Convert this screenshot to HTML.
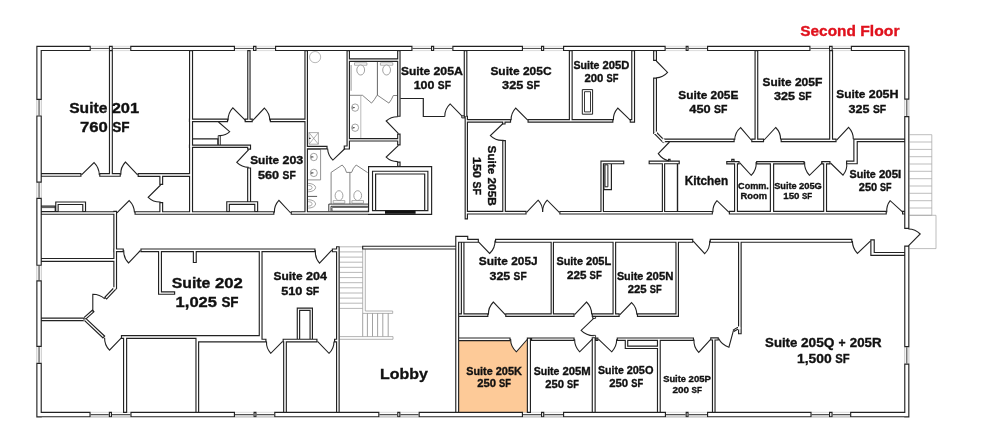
<!DOCTYPE html>
<html><head><meta charset="utf-8"><title>Second Floor</title>
<style>html,body{margin:0;padding:0;background:#fff;}svg{display:block;will-change:transform;}text{font-family:"Liberation Sans",sans-serif;font-weight:bold;fill:#111;stroke:#111;stroke-width:0.35px;}</style>
</head><body>
<svg width="984" height="446" viewBox="0 0 984 446">
<rect width="984" height="446" fill="#fff"/>
<rect x="90.6" y="414.9" width="18.200000000000003" height="2.8" fill="#d6d6d6"/>
<rect x="112" y="414.9" width="18.400000000000006" height="2.8" fill="#d6d6d6"/>
<rect x="235" y="414.9" width="18.5" height="2.8" fill="#d6d6d6"/>
<rect x="256.5" y="414.9" width="17.69999999999999" height="2.8" fill="#d6d6d6"/>
<rect x="379.4" y="414.9" width="17.80000000000001" height="2.8" fill="#d6d6d6"/>
<rect x="400.4" y="414.9" width="18.200000000000045" height="2.8" fill="#d6d6d6"/>
<rect x="523" y="414.9" width="18" height="2.8" fill="#d6d6d6"/>
<rect x="544.3" y="414.9" width="18.700000000000045" height="2.8" fill="#d6d6d6"/>
<rect x="666" y="414.9" width="19.600000000000023" height="2.8" fill="#d6d6d6"/>
<rect x="688.6" y="414.9" width="18.399999999999977" height="2.8" fill="#d6d6d6"/>
<rect x="811.6" y="414.9" width="17.399999999999977" height="2.8" fill="#d6d6d6"/>
<rect x="832.6" y="414.9" width="17.5" height="2.8" fill="#d6d6d6"/>
<rect x="458.6" y="340.6" width="69" height="72" fill="#fdca98"/>
<path d="M527.6 337H510.6V339A17 17 0 0 0 516.4 351.8L527.6 339Z" fill="#fff"/>
<path d="M90.8 48.45H108.9" fill="none" stroke="#4c4c4c" stroke-width="1.0"/>
<path d="M90.8 46.3H108.9M90.8 50.6H108.9" fill="none" stroke="#c2c2c2" stroke-width="0.6"/>
<path d="M112.8 48.45H130.2" fill="none" stroke="#4c4c4c" stroke-width="1.0"/>
<path d="M112.8 46.3H130.2M112.8 50.6H130.2" fill="none" stroke="#c2c2c2" stroke-width="0.6"/>
<path d="M235 48.45H253" fill="none" stroke="#4c4c4c" stroke-width="1.0"/>
<path d="M235 46.3H253M235 50.6H253" fill="none" stroke="#c2c2c2" stroke-width="0.6"/>
<path d="M256.5 48.45H275" fill="none" stroke="#4c4c4c" stroke-width="1.0"/>
<path d="M256.5 46.3H275M256.5 50.6H275" fill="none" stroke="#c2c2c2" stroke-width="0.6"/>
<path d="M412.5 48.45H431" fill="none" stroke="#4c4c4c" stroke-width="1.0"/>
<path d="M412.5 46.3H431M412.5 50.6H431" fill="none" stroke="#c2c2c2" stroke-width="0.6"/>
<path d="M434.2 48.45H452.3" fill="none" stroke="#4c4c4c" stroke-width="1.0"/>
<path d="M434.2 46.3H452.3M434.2 50.6H452.3" fill="none" stroke="#c2c2c2" stroke-width="0.6"/>
<path d="M523 48.45H541" fill="none" stroke="#4c4c4c" stroke-width="1.0"/>
<path d="M523 46.3H541M523 50.6H541" fill="none" stroke="#c2c2c2" stroke-width="0.6"/>
<path d="M544.2 48.45H563" fill="none" stroke="#4c4c4c" stroke-width="1.0"/>
<path d="M544.2 46.3H563M544.2 50.6H563" fill="none" stroke="#c2c2c2" stroke-width="0.6"/>
<path d="M665.7 48.45H685.6" fill="none" stroke="#4c4c4c" stroke-width="1.0"/>
<path d="M665.7 46.3H685.6M665.7 50.6H685.6" fill="none" stroke="#c2c2c2" stroke-width="0.6"/>
<path d="M688.6 48.45H707" fill="none" stroke="#4c4c4c" stroke-width="1.0"/>
<path d="M688.6 46.3H707M688.6 50.6H707" fill="none" stroke="#c2c2c2" stroke-width="0.6"/>
<path d="M810.5 48.45H829" fill="none" stroke="#4c4c4c" stroke-width="1.0"/>
<path d="M810.5 46.3H829M810.5 50.6H829" fill="none" stroke="#c2c2c2" stroke-width="0.6"/>
<path d="M832.7 48.45H850.8" fill="none" stroke="#4c4c4c" stroke-width="1.0"/>
<path d="M832.7 46.3H850.8M832.7 50.6H850.8" fill="none" stroke="#c2c2c2" stroke-width="0.6"/>
<path d="M90.6 414.55H108.8" fill="none" stroke="#4c4c4c" stroke-width="1.0"/>
<path d="M90.6 412.3H108.8M90.6 416.8H108.8" fill="none" stroke="#c2c2c2" stroke-width="0.6"/>
<path d="M112 414.55H130.4" fill="none" stroke="#4c4c4c" stroke-width="1.0"/>
<path d="M112 412.3H130.4M112 416.8H130.4" fill="none" stroke="#c2c2c2" stroke-width="0.6"/>
<path d="M235 414.55H253.5" fill="none" stroke="#4c4c4c" stroke-width="1.0"/>
<path d="M235 412.3H253.5M235 416.8H253.5" fill="none" stroke="#c2c2c2" stroke-width="0.6"/>
<path d="M256.5 414.55H274.2" fill="none" stroke="#4c4c4c" stroke-width="1.0"/>
<path d="M256.5 412.3H274.2M256.5 416.8H274.2" fill="none" stroke="#c2c2c2" stroke-width="0.6"/>
<path d="M379.4 414.55H397.2" fill="none" stroke="#4c4c4c" stroke-width="1.0"/>
<path d="M379.4 412.3H397.2M379.4 416.8H397.2" fill="none" stroke="#c2c2c2" stroke-width="0.6"/>
<path d="M400.4 414.55H418.6" fill="none" stroke="#4c4c4c" stroke-width="1.0"/>
<path d="M400.4 412.3H418.6M400.4 416.8H418.6" fill="none" stroke="#c2c2c2" stroke-width="0.6"/>
<path d="M523 414.55H541" fill="none" stroke="#4c4c4c" stroke-width="1.0"/>
<path d="M523 412.3H541M523 416.8H541" fill="none" stroke="#c2c2c2" stroke-width="0.6"/>
<path d="M544.3 414.55H563" fill="none" stroke="#4c4c4c" stroke-width="1.0"/>
<path d="M544.3 412.3H563M544.3 416.8H563" fill="none" stroke="#c2c2c2" stroke-width="0.6"/>
<path d="M666 414.55H685.6" fill="none" stroke="#4c4c4c" stroke-width="1.0"/>
<path d="M666 412.3H685.6M666 416.8H685.6" fill="none" stroke="#c2c2c2" stroke-width="0.6"/>
<path d="M688.6 414.55H707" fill="none" stroke="#4c4c4c" stroke-width="1.0"/>
<path d="M688.6 412.3H707M688.6 416.8H707" fill="none" stroke="#c2c2c2" stroke-width="0.6"/>
<path d="M811.6 414.55H829" fill="none" stroke="#4c4c4c" stroke-width="1.0"/>
<path d="M811.6 412.3H829M811.6 416.8H829" fill="none" stroke="#c2c2c2" stroke-width="0.6"/>
<path d="M832.6 414.55H850.1" fill="none" stroke="#4c4c4c" stroke-width="1.0"/>
<path d="M832.6 412.3H850.1M832.6 416.8H850.1" fill="none" stroke="#c2c2c2" stroke-width="0.6"/>
<path d="M39.05 100V115.4" fill="none" stroke="#555" stroke-width="1.2"/>
<path d="M36.8 100V115.4M41.3 100V115.4" fill="none" stroke="#b0b0b0" stroke-width="0.7"/>
<path d="M39.05 182.7V197.8" fill="none" stroke="#555" stroke-width="1.2"/>
<path d="M36.8 182.7V197.8M41.3 182.7V197.8" fill="none" stroke="#b0b0b0" stroke-width="0.7"/>
<path d="M39.05 265.8V280.3" fill="none" stroke="#555" stroke-width="1.2"/>
<path d="M36.8 265.8V280.3M41.3 265.8V280.3" fill="none" stroke="#b0b0b0" stroke-width="0.7"/>
<path d="M39.05 347V362.8" fill="none" stroke="#555" stroke-width="1.2"/>
<path d="M36.8 347V362.8M41.3 347V362.8" fill="none" stroke="#b0b0b0" stroke-width="0.7"/>
<path d="M906.8 99.7V116" fill="none" stroke="#555" stroke-width="1.2"/>
<path d="M904.7 99.7V116M908.9 99.7V116" fill="none" stroke="#b0b0b0" stroke-width="0.7"/>
<path d="M906.8 347.2V363.5" fill="none" stroke="#555" stroke-width="1.2"/>
<path d="M904.7 347.2V363.5M908.9 347.2V363.5" fill="none" stroke="#b0b0b0" stroke-width="0.7"/>
<path d="M354.5 62.8H366.9V65.2H354.5Z" fill="none" stroke="#8c8c8c" stroke-width="0.7"/>
<path d="M380.40000000000003 62.8H392.8V65.2H380.40000000000003Z" fill="none" stroke="#8c8c8c" stroke-width="0.7"/>
<path d="M377.4 61.8V95.3" fill="none" stroke="#555" stroke-width="0.9"/>
<path d="M351.1 65V90.8" fill="none" stroke="#aaa" stroke-width="1.2"/>
<path d="M349.6 95.3H362.5L371.5 103.1Q374.5 100 377 95.3H377.6L388.9 103.1Q391.5 100 393.3 95.5H397.3" fill="none" stroke="#666" stroke-width="0.8"/>
<path d="M360.8 95.3V137.9" fill="none" stroke="#aaa" stroke-width="0.8"/>
<path d="M309 132.6H318.4V144.2H309ZM309 132.6L318.4 144.2M318.4 132.6L309 144.2" fill="none" stroke="#8c8c8c" stroke-width="0.7"/>
<path d="M307.9 149.4H320.6V179.9H307.9" fill="none" stroke="#777" stroke-width="0.8"/>
<path d="M308.2 183.4A7.4 4.2 0 0 1 308.2 191.79999999999998" fill="none" stroke="#8c8c8c" stroke-width="0.8"/>
<path d="M308.2 185.29999999999998A4 2.3 0 0 1 308.2 189.9" fill="none" stroke="#8c8c8c" stroke-width="0.7"/>
<path d="M308.2 199.70000000000002A7.4 4.2 0 0 1 308.2 208.1" fill="none" stroke="#8c8c8c" stroke-width="0.8"/>
<path d="M308.2 201.6A4 2.3 0 0 1 308.2 206.20000000000002" fill="none" stroke="#8c8c8c" stroke-width="0.7"/>
<path d="M307.9 196.4H317.1" fill="none" stroke="#444" stroke-width="0.9"/>
<path d="M331.1 203.9V172.4L342.2 165Q345.5 168 346.5 172.4H349.9V203.9M349.9 172.4H351.6Q353 168 356.2 165L367.6 172.6" fill="none" stroke="#666" stroke-width="0.8"/>
<path d="M333.2 203.2H344.8V200.6H333.2Z" fill="none" stroke="#8c8c8c" stroke-width="0.7"/>
<path d="M351.9 203.2H363.5V200.6H351.9Z" fill="none" stroke="#8c8c8c" stroke-width="0.7"/>
<path d="M909.6 134.7H931.8M909.6 142.0H931.8M909.6 149.4H931.8M909.6 156.7H931.8M909.6 164.0H931.8M909.6 171.3H931.8M909.6 178.7H931.8M909.6 186.0H931.8M909.6 193.3H931.8M909.6 200.7H931.8M909.6 208.0H931.8M909.6 215.3H931.8M931.8 134.7V215.3M909.6 215.3H936V248.6H909.6" fill="none" stroke="#a2a2a2" stroke-width="0.7"/>
<path d="M339.8 246.8H362.7M339.8 251.9H362.7M339.8 257.1H362.7M339.8 262.2H362.7M339.8 267.3H362.7M339.8 272.4H362.7M339.8 277.6H362.7M339.8 282.7H362.7M339.8 287.8H362.7M339.8 293.0H362.7M339.8 298.1H362.7M339.8 303.2H362.7M339.8 308.4H362.7" fill="none" stroke="#a6a6a6" stroke-width="0.8"/>
<path d="M362.7 249.3V313.4H392.7M365.3 249.3V311H392.7V313.4" fill="none" stroke="#a0a0a0" stroke-width="0.8"/>
<path d="M362.7 313.4V336.6M367.4 313.4V336.6M372.5 313.4V336.6M377.6 313.4V336.6M382.8 313.4V336.6M388.2 313.4V336.6" fill="none" stroke="#8a8a8a" stroke-width="0.8"/>
<path d="M339.8 336.6H393V339.3H339.8" fill="none" stroke="#a0a0a0" stroke-width="0.8"/>
<path d="M36.3 45.8H90.8V51.1H36.3ZM108.9 45.8H112.8V51.1H108.9ZM130.2 45.8H235V51.1H130.2ZM253 45.8H256.5V51.1H253ZM275 45.8H412.5V51.1H275ZM431 45.8H434.2V51.1H431ZM452.3 45.8H523V51.1H452.3ZM541 45.8H544.2V51.1H541ZM563 45.8H665.7V51.1H563ZM685.6 45.8H688.6V51.1H685.6ZM707 45.8H810.5V51.1H707ZM829 45.8H832.7V51.1H829ZM850.8 45.8H909.4V51.1H850.8ZM36.3 411.8H90.6V417.3H36.3ZM108.8 411.8H112V417.3H108.8ZM130.4 411.8H235V417.3H130.4ZM253.5 411.8H256.5V417.3H253.5ZM274.2 411.8H379.4V417.3H274.2ZM397.2 411.8H400.4V417.3H397.2ZM418.6 411.8H523V417.3H418.6ZM541 411.8H544.3V417.3H541ZM563 411.8H666V417.3H563ZM685.6 411.8H688.6V417.3H685.6ZM707 411.8H811.6V417.3H707ZM829 411.8H832.6V417.3H829ZM850.1 411.8H909.4V417.3H850.1ZM36.3 45.8H41.8V100H36.3ZM36.3 115.4H41.8V182.7H36.3ZM36.3 197.8H41.8V265.8H36.3ZM36.3 280.3H41.8V347H36.3ZM36.3 362.8H41.8V417.5H36.3ZM904.2 45.8H909.4V99.7H904.2ZM904.2 116H909.4V229H904.2ZM904.2 245.6H909.4V347.2H904.2ZM904.2 363.5H909.4V417.5H904.2ZM108.9 50H112.9V176.8H108.9ZM189 50H193.1V214.7H189ZM40.7 173H81.5V176.8H40.7ZM99.2 173H120.8V176.8H99.2ZM137.6 173H193V176.9H137.6ZM159.3 173H163.2V185H159.3ZM159.3 202H163.2V214.8H159.3ZM40.7 211.2H116.9V214.8H40.7ZM40.7 205.6H55.8V212.2H40.7ZM55.2 201.4H58.7V212.2H55.2ZM55.2 201.4H86.1V205.1H55.2ZM82.2 201.4H86.1V212.2H82.2ZM134.5 211.2H274.4V214.8H134.5ZM290.7 211.2H372V214.8H290.7ZM226.2 201.2H229.9V212.2H226.2ZM226.2 201.2H258.2V204.9H226.2ZM254.2 201.2H258.2V212.2H254.2ZM113.3 210.8H117.1V289.2H113.3ZM113.2 248.4H123.8V252.2H113.2ZM140.4 248.4H315.5V252.2H140.4ZM331.8 248.4H339.7V252.3H331.8ZM40.7 257.9H117.1V261.9H40.7ZM40.7 317.5H84.5V321.2H40.7ZM120.9 335.1H199V339H120.9ZM195.4 335.1H262.5V342.4H195.4ZM258.5 338.7H266.5V342.4H258.5ZM123 335.1H127.2V412.9H123ZM195.4 335.1H199.2V412.9H195.4ZM258.7 248.4H262.6V342.4H258.7ZM158 248.4H162V294.8H158ZM158 291.3H175.2V294.8H158ZM192.8 248.4H196.8V263.1H192.8ZM282.6 338.7H317.5V342.5H282.6ZM334 338.7H339.7V342.5H334ZM283.1 338.7H286.9V412.9H283.1ZM336 246.2H339.7V412.9H336ZM296.7 307.6H300.2V340H296.7ZM309.5 307.6H313V340H309.5ZM296.7 307.6H313V311H296.7ZM247.2 50H250.6V122.2H247.2ZM188.9 118.6H228.1V122.2H188.9ZM244.6 118.6H252.8V122.2H244.6ZM269.8 118.6H308V122.2H269.8ZM304.4 50H308V214.7H304.4ZM188.9 144.6H251.1V148H188.9ZM247.1 144.6H251.1V149.7H247.1ZM247.1 167.4H251.1V202.4H247.1ZM346.5 50H350V149.6H346.5ZM343.7 145.4H350V149.6H343.7ZM397.1 50H400.6V116.8H397.1ZM397.1 133.6H400.6V145.4H397.1ZM397.1 161.6H400.6V167H397.1ZM346.5 58.3H400.6V61.9H346.5ZM346.5 138H400.6V141.6H346.5ZM304.4 145.8H327.6V149.4H304.4ZM368 166H432.2V171.8H368ZM368 166H373.1V214.9H368ZM427.3 166H432.2V214.9H427.3ZM368 210H432.2V214.9H368ZM463.7 50H467.4V117.5H463.7ZM464.6 115.7H468V219.4H464.6ZM464.6 119H511.1V122.7H464.6ZM502.1 119H505.6V124.6H502.1ZM527.5 119H613.4V122.7H527.5ZM629.7 119H635.1V122.7H629.7ZM568.8 50H572.7V122.7H568.8ZM631.2 50H635.1V122.7H631.2ZM502.2 140H505.9V214.6H502.2ZM464.6 210.8H526.6V214.6H464.6ZM559.3 210.9H712.9V214.6H559.3ZM728.8 210.8H886.8V214.6H728.8ZM902 210.8H905.3V214.6H902ZM600.4 160.6H604V214.6H600.4ZM600.4 160.6H624.3V164.3H600.4ZM653.1 50H657V61H653.1ZM653.1 77.5H657V134H653.1ZM662.5 138.5H734.7V142.2H662.5ZM648.6 160.6H679.8V164.3H648.6ZM668 158.8H670.6V161.8H668ZM661.8 160.6H665.2V214.6H661.8ZM734 161H738V214.6H734ZM731.2 158.8H734.6V162H731.2ZM751.2 138.5H764.1V142.2H751.2ZM754.5 50H758.3V142.2H754.5ZM780.6 138.5H836.6V142.2H780.6ZM829.1 50H833.1V142.2H829.1ZM853.3 138.5H905.3V142.2H853.3ZM853.3 138.5H857.8V164.3H853.3ZM726.2 161H739.6V164.4H726.2ZM756.1 161H804.6V164.4H756.1ZM821.2 161H830.5V164.4H821.2ZM846 160.6H857.8V164.3H846ZM769.8 161H774.2V214.6H769.8ZM823.1 161H827.1V214.6H823.1ZM362.1 245.7H456.5V249.6H362.1ZM455.2 235.8H459.2V412.9H455.2ZM455.2 235.8H468.3V242.8H455.2ZM458 238.8H478.9V242.8H458ZM460.8 241.5H464.5V316H460.8ZM495 238.8H693.3V242.8H495ZM709.7 238.8H852.4V242.8H709.7ZM870.3 239.3H874.8V255.9H870.3ZM870.3 251.9H905.3V255.9H870.3ZM550.6 238.8H554V317H550.6ZM612.5 238.8H616.2V317H612.5ZM675.4 238.8H679V317H675.4ZM458 313.3H488.4V317H458ZM505.2 313.3H574.6V317H505.2ZM591.7 313.3H619.7V317H591.7ZM636.9 313.3H679V317H636.9ZM738 238.8H741.7V334.3H738ZM458 337.4H510.6V341.2H458ZM526.8 337.6H531V412.9H526.8ZM531 337.4H574.6V341H531ZM591.7 337.2H595.7V412.9H591.7ZM595.5 337.4H598.4V341H595.5ZM616.7 337.4H694V341H616.7ZM711.9 337.5H715.6V412.9H711.9ZM710.2 337.3H718.8V340.6H710.2ZM656.9 337.4H660.8V412.9H656.9ZM624.7 337.4H628.3V349.1H624.7ZM624.7 345.6H660.8V349.1H624.7ZM113.99 286.76L103.99 297.36L106.61 299.84L116.61 289.24ZM92.47 309.33L83.27 317.53L85.53 320.07L94.73 311.87ZM83.17 320.11L102.97 338.71L105.43 336.09L85.63 317.49ZM653.73 133.87L663.13 143.27L665.67 140.73L656.27 131.33ZM739.29 325.79L732.69 329.69L734.11 332.11L740.71 328.21Z" fill="#222"/>
<path d="M37.45 46.95H89.65V49.95H37.45ZM110.05 46.95H111.65V49.95H110.05ZM131.35 46.95H233.85V49.95H131.35ZM254.15 46.95H255.35V49.95H254.15ZM276.15 46.95H411.35V49.95H276.15ZM432.15 46.95H433.05V49.95H432.15ZM453.45 46.95H521.85V49.95H453.45ZM542.15 46.95H543.05V49.95H542.15ZM564.15 46.95H664.55V49.95H564.15ZM686.75 46.95H687.45V49.95H686.75ZM708.15 46.95H809.35V49.95H708.15ZM830.15 46.95H831.55V49.95H830.15ZM851.95 46.95H908.25V49.95H851.95ZM37.45 412.95H89.45V416.15H37.45ZM109.95 412.95H110.85V416.15H109.95ZM131.55 412.95H233.85V416.15H131.55ZM254.65 412.95H255.35V416.15H254.65ZM275.35 412.95H378.25V416.15H275.35ZM398.35 412.95H399.25V416.15H398.35ZM419.75 412.95H521.85V416.15H419.75ZM542.15 412.95H543.15V416.15H542.15ZM564.15 412.95H664.85V416.15H564.15ZM686.75 412.95H687.45V416.15H686.75ZM708.15 412.95H810.45V416.15H708.15ZM830.15 412.95H831.45V416.15H830.15ZM851.25 412.95H908.25V416.15H851.25ZM37.45 46.95H40.65V98.85H37.45ZM37.45 116.55H40.65V181.55H37.45ZM37.45 198.95H40.65V264.65H37.45ZM37.45 281.45H40.65V345.85H37.45ZM37.45 363.95H40.65V416.35H37.45ZM905.35 46.95H908.25V98.55H905.35ZM905.35 117.15H908.25V227.85H905.35ZM905.35 246.75H908.25V346.05H905.35ZM905.35 364.65H908.25V416.35H905.35ZM110.05 51.15H111.75V175.65H110.05ZM190.15 51.15H191.95V213.55H190.15ZM41.85 174.15H80.35V175.65H41.85ZM100.35 174.15H119.65V175.65H100.35ZM138.75 174.15H191.85V175.75H138.75ZM160.45 174.15H162.05V183.85H160.45ZM160.45 203.15H162.05V213.65H160.45ZM41.85 212.35H115.75V213.65H41.85ZM41.85 206.75H54.65V211.05H41.85ZM56.35 202.55H57.55V211.05H56.35ZM56.35 202.55H84.95V203.95H56.35ZM83.35 202.55H84.95V211.05H83.35ZM135.65 212.35H273.25V213.65H135.65ZM291.85 212.35H370.85V213.65H291.85ZM227.35 202.35H228.75V211.05H227.35ZM227.35 202.35H257.05V203.75H227.35ZM255.35 202.35H257.05V211.05H255.35ZM114.45 211.95H115.95V288.05H114.45ZM114.35 249.55H122.65V251.05H114.35ZM141.55 249.55H314.35V251.05H141.55ZM332.95 249.55H338.55V251.15H332.95ZM41.85 259.05H115.95V260.75H41.85ZM41.85 318.65H83.35V320.05H41.85ZM122.05 336.25H197.85V337.85H122.05ZM196.55 336.25H261.35V341.25H196.55ZM259.65 339.85H265.35V341.25H259.65ZM124.15 336.25H126.05V411.75H124.15ZM196.55 336.25H198.05V411.75H196.55ZM259.85 249.55H261.45V341.25H259.85ZM159.15 249.55H160.85V293.65H159.15ZM159.15 292.45H174.05V293.65H159.15ZM193.95 249.55H195.65V261.95H193.95ZM283.75 339.85H316.35V341.35H283.75ZM335.15 339.85H338.55V341.35H335.15ZM284.25 339.85H285.75V411.75H284.25ZM337.15 247.35H338.55V411.75H337.15ZM297.85 308.75H299.05V338.85H297.85ZM310.65 308.75H311.85V338.85H310.65ZM297.85 308.75H311.85V309.85H297.85ZM248.35 51.15H249.45V121.05H248.35ZM190.05 119.75H226.95V121.05H190.05ZM245.75 119.75H251.65V121.05H245.75ZM270.95 119.75H306.85V121.05H270.95ZM305.55 51.15H306.85V213.55H305.55ZM190.05 145.75H249.95V146.85H190.05ZM248.25 145.75H249.95V148.55H248.25ZM248.25 168.55H249.95V201.25H248.25ZM347.65 51.15H348.85V148.45H347.65ZM344.85 146.55H348.85V148.45H344.85ZM398.25 51.15H399.45V115.65H398.25ZM398.25 134.75H399.45V144.25H398.25ZM398.25 162.75H399.45V165.85H398.25ZM347.65 59.45H399.45V60.75H347.65ZM347.65 139.15H399.45V140.45H347.65ZM305.55 146.95H326.45V148.25H305.55ZM369.15 167.15H431.05V170.65H369.15ZM369.15 167.15H371.95V213.75H369.15ZM428.45 167.15H431.05V213.75H428.45ZM369.15 211.15H431.05V213.75H369.15ZM464.85 51.15H466.25V116.35H464.85ZM465.75 116.85H466.85V218.25H465.75ZM465.75 120.15H509.95V121.55H465.75ZM503.25 120.15H504.45V123.45H503.25ZM528.65 120.15H612.25V121.55H528.65ZM630.85 120.15H633.95V121.55H630.85ZM569.95 51.15H571.55V121.55H569.95ZM632.35 51.15H633.95V121.55H632.35ZM503.35 141.15H504.75V213.45H503.35ZM465.75 211.95H525.45V213.45H465.75ZM560.45 212.05H711.75V213.45H560.45ZM729.95 211.95H885.65V213.45H729.95ZM903.15 211.95H904.15V213.45H903.15ZM601.55 161.75H602.85V213.45H601.55ZM601.55 161.75H623.15V163.15H601.55ZM654.25 51.15H655.85V59.85H654.25ZM654.25 78.65H655.85V132.85H654.25ZM663.65 139.65H733.55V141.05H663.65ZM649.75 161.75H678.65V163.15H649.75ZM669.15 159.95H669.45V160.65H669.15ZM662.95 161.75H664.05V213.45H662.95ZM735.15 162.15H736.85V213.45H735.15ZM732.35 159.95H733.45V160.85H732.35ZM752.35 139.65H762.95V141.05H752.35ZM755.65 51.15H757.15V141.05H755.65ZM781.75 139.65H835.45V141.05H781.75ZM830.25 51.15H831.95V141.05H830.25ZM854.45 139.65H904.15V141.05H854.45ZM854.45 139.65H856.65V163.15H854.45ZM727.35 162.15H738.45V163.25H727.35ZM757.25 162.15H803.45V163.25H757.25ZM822.35 162.15H829.35V163.25H822.35ZM847.15 161.75H856.65V163.15H847.15ZM770.95 162.15H773.05V213.45H770.95ZM824.25 162.15H825.95V213.45H824.25ZM363.25 246.85H455.35V248.45H363.25ZM456.35 236.95H458.05V411.75H456.35ZM456.35 236.95H467.15V241.65H456.35ZM459.15 239.95H477.75V241.65H459.15ZM461.95 242.65H463.35V314.85H461.95ZM496.15 239.95H692.15V241.65H496.15ZM710.85 239.95H851.25V241.65H710.85ZM871.45 240.45H873.65V254.75H871.45ZM871.45 253.05H904.15V254.75H871.45ZM551.75 239.95H552.85V315.85H551.75ZM613.65 239.95H615.05V315.85H613.65ZM676.55 239.95H677.85V315.85H676.55ZM459.15 314.45H487.25V315.85H459.15ZM506.35 314.45H573.45V315.85H506.35ZM592.85 314.45H618.55V315.85H592.85ZM638.05 314.45H677.85V315.85H638.05ZM739.15 239.95H740.55V333.15H739.15ZM459.15 338.55H509.45V340.05H459.15ZM527.95 338.75H529.85V411.75H527.95ZM532.15 338.55H573.45V339.85H532.15ZM592.85 338.35H594.55V411.75H592.85ZM596.65 338.55H597.25V339.85H596.65ZM617.85 338.55H692.85V339.85H617.85ZM713.05 338.65H714.45V411.75H713.05ZM711.35 338.45H717.65V339.45H711.35ZM658.05 338.55H659.65V411.75H658.05ZM625.85 338.55H627.15V347.95H625.85ZM625.85 346.75H659.65V347.95H625.85ZM114.04 288.39L105.62 297.32L106.56 298.21L114.98 289.28ZM92.38 310.95L84.89 317.62L85.62 318.45L93.11 311.78ZM84.79 320.06L102.92 337.09L103.81 336.14L85.68 319.11ZM655.35 133.87L663.13 141.65L664.05 140.73L656.27 132.95ZM738.88 327.37L734.26 330.1L734.52 330.53L739.14 327.8Z" fill="#fff"/>
<path d="M81.5 174.9L94.1 162.6A17.8 17.8 0 0 1 99.3 174.9" fill="none" stroke="#222" stroke-width="1.1" stroke-linejoin="miter"/>
<path d="M137.6 174.9L125.5 162.0A16.8 16.8 0 0 0 120.8 174.9" fill="none" stroke="#222" stroke-width="1.1" stroke-linejoin="miter"/>
<path d="M160.6 185.0L148.2 197.3A17.0 17.0 0 0 0 160.6 202.0" fill="none" stroke="#222" stroke-width="1.1" stroke-linejoin="miter"/>
<path d="M41.5 207.6H55" fill="none" stroke="#222" stroke-width="0.8" stroke-linejoin="miter"/>
<path d="M116.9 212.8L129.2 200.6A17.6 17.6 0 0 1 134.5 212.6" fill="none" stroke="#222" stroke-width="1.1" stroke-linejoin="miter"/>
<path d="M290.7 213.0L278.9 200.3A16.3 16.3 0 0 0 274.4 212.6" fill="none" stroke="#222" stroke-width="1.1" stroke-linejoin="miter"/>
<path d="M140.4 250.5L128.6 263.0A16.6 16.6 0 0 1 123.8 250.3" fill="none" stroke="#222" stroke-width="1.1" stroke-linejoin="miter"/>
<path d="M331.8 250.2L319.5 263.1A16.3 16.3 0 0 1 315.5 250.4" fill="none" stroke="#222" stroke-width="1.1" stroke-linejoin="miter"/>
<path d="M92.8 311.5L92.8 294.2A17.4 17.4 0 0 1 104.8 298.9" fill="none" stroke="#222" stroke-width="1.1" stroke-linejoin="miter"/>
<path d="M121.6 337.6L109.5 350.2A17.0 17.0 0 0 1 104.6 337.8" fill="none" stroke="#222" stroke-width="1.1" stroke-linejoin="miter"/>
<path d="M282.6 341.4L270.8 353.3A16.1 16.1 0 0 1 266.5 341.4" fill="none" stroke="#222" stroke-width="1.1" stroke-linejoin="miter"/>
<path d="M317.5 341.4L329.0 353.3A16.5 16.5 0 0 0 334.0 341.4" fill="none" stroke="#222" stroke-width="1.1" stroke-linejoin="miter"/>
<path d="M245.4 120.4L232.8 107.8A17.3 17.3 0 0 0 228.1 120.4" fill="none" stroke="#222" stroke-width="1.1" stroke-linejoin="miter"/>
<path d="M252.8 120.4L264.4 108.1A17.0 17.0 0 0 1 269.8 120.4" fill="none" stroke="#222" stroke-width="1.1" stroke-linejoin="miter"/>
<path d="M218.2 135.6V145M220.3 135.6V145M218.2 135.6H220.3" fill="none" stroke="#222" stroke-width="0.9" stroke-linejoin="miter"/>
<path d="M218.5 122.0L229.7 131.7A13.6 13.6 0 0 1 219.3 135.6" fill="none" stroke="#222" stroke-width="1.1" stroke-linejoin="miter"/>
<path d="M192.6 138.9H217.9V144.8" fill="none" stroke="#222" stroke-width="1.2" stroke-linejoin="miter"/>
<path d="M248.7 149.7L236.8 162.3A17.7 17.7 0 0 0 248.7 167.4" fill="none" stroke="#222" stroke-width="1.1" stroke-linejoin="miter"/>
<path d="M345.0 148.5L332.9 160.1A17.4 17.4 0 0 1 327.6 148.5" fill="none" stroke="#222" stroke-width="1.1" stroke-linejoin="miter"/>
<path d="M398.5 133.6L386.2 121.0A16.8 16.8 0 0 1 397.8 116.8" fill="none" stroke="#222" stroke-width="1.1" stroke-linejoin="miter"/>
<path d="M398.5 145.4L386.2 157.1A16.2 16.2 0 0 0 397.8 161.6" fill="none" stroke="#222" stroke-width="1.1" stroke-linejoin="miter"/>
<path d="M375.6 210.6V174H424.7V210.6" fill="none" stroke="#222" stroke-width="1.2" stroke-linejoin="miter"/>
<path d="M328.8 211.4V204.1H368.6M331 211.4V206.3H368.6" fill="none" stroke="#222" stroke-width="0.9" stroke-linejoin="miter"/>
<path d="M400.4 98.5H423.3V116.5H444.8" fill="none" stroke="#222" stroke-width="1.2" stroke-linejoin="miter"/>
<path d="M461.8 115.8L450.2 103.9A17.0 17.0 0 0 0 444.8 116.5" fill="none" stroke="#222" stroke-width="1.1" stroke-linejoin="miter"/>
<path d="M464.3 115.8H461.8V117.9H465" fill="none" stroke="#222" stroke-width="1.0" stroke-linejoin="miter"/>
<path d="M527.7 120.2L515.7 108.1A16.6 16.6 0 0 0 511.1 120.2" fill="none" stroke="#222" stroke-width="1.1" stroke-linejoin="miter"/>
<path d="M630.2 120.2L617.8 108.1A16.8 16.8 0 0 0 613.4 120.2" fill="none" stroke="#222" stroke-width="1.1" stroke-linejoin="miter"/>
<path d="M503.0 123.5L490.4 135.6A16.8 16.8 0 0 0 503.6 140.3" fill="none" stroke="#222" stroke-width="1.1" stroke-linejoin="miter"/>
<path d="M526.6 212.4L538.1 200.2A16.0 16.0 0 0 1 542.6 212.0" fill="none" stroke="#222" stroke-width="1.1" stroke-linejoin="miter"/>
<path d="M559.3 212.4L547.2 200.2A16.7 16.7 0 0 0 542.6 212.0" fill="none" stroke="#222" stroke-width="1.1" stroke-linejoin="miter"/>
<path d="M728.8 212.2L717.0 200.7A15.9 15.9 0 0 0 712.9 212.2" fill="none" stroke="#222" stroke-width="1.1" stroke-linejoin="miter"/>
<path d="M903.0 212.4L890.2 200.7A16.2 16.2 0 0 0 886.8 212.4" fill="none" stroke="#222" stroke-width="1.1" stroke-linejoin="miter"/>
<path d="M582.3 89.6H592.6V114.2H582.3Z" fill="none" stroke="#222" stroke-width="1.0" stroke-linejoin="miter"/>
<path d="M584.5 91.7H590.5V111.9H584.5Z" fill="none" stroke="#222" stroke-width="0.9" stroke-linejoin="miter"/>
<path d="M603.9 164V189.6H611.4V164" fill="none" stroke="#222" stroke-width="1.2" stroke-linejoin="miter"/>
<path d="M605 164.8H607.9V186.8H605Z" fill="none" stroke="#222" stroke-width="1.0" stroke-linejoin="miter"/>
<path d="M656.3 61.0L667.6 72.4A16.9 16.9 0 0 1 656.3 77.9" fill="none" stroke="#222" stroke-width="1.1" stroke-linejoin="miter"/>
<path d="M669.5 142.0L658.3 153.6A19.0 19.0 0 0 0 669.0 161.0" fill="none" stroke="#222" stroke-width="1.1" stroke-linejoin="miter"/>
<path d="M677.5 163.8V211" fill="none" stroke="#222" stroke-width="1.4" stroke-linejoin="miter"/>
<path d="M751.2 140.0L740.6 127.6A16.5 16.5 0 0 0 734.7 140.0" fill="none" stroke="#222" stroke-width="1.1" stroke-linejoin="miter"/>
<path d="M764.1 140.0L775.7 127.5A16.5 16.5 0 0 1 780.6 139.6" fill="none" stroke="#222" stroke-width="1.1" stroke-linejoin="miter"/>
<path d="M836.6 140.2L848.6 127.3A16.7 16.7 0 0 1 853.3 139.2" fill="none" stroke="#222" stroke-width="1.1" stroke-linejoin="miter"/>
<path d="M739.6 162.6L751.2 175.3A16.5 16.5 0 0 0 756.1 162.0" fill="none" stroke="#222" stroke-width="1.1" stroke-linejoin="miter"/>
<path d="M822.4 162.6L809.5 175.3A17.8 17.8 0 0 1 804.6 162.0" fill="none" stroke="#222" stroke-width="1.1" stroke-linejoin="miter"/>
<path d="M830.5 163.0L843.0 175.2A16.0 16.0 0 0 0 846.5 162.2" fill="none" stroke="#222" stroke-width="1.1" stroke-linejoin="miter"/>
<path d="M478.5 241.8L489.6 253.5A16.6 16.6 0 0 0 495.0 240.5" fill="none" stroke="#222" stroke-width="1.1" stroke-linejoin="miter"/>
<path d="M693.2 241.2L704.7 253.6A16.5 16.5 0 0 0 709.7 240.6" fill="none" stroke="#222" stroke-width="1.1" stroke-linejoin="miter"/>
<path d="M870.6 240.8L857.4 253.4A18.2 18.2 0 0 1 852.4 241.0" fill="none" stroke="#222" stroke-width="1.1" stroke-linejoin="miter"/>
<path d="M505.5 314.8L493.4 302.0A17.1 17.1 0 0 0 488.4 314.8" fill="none" stroke="#222" stroke-width="1.1" stroke-linejoin="miter"/>
<path d="M574.6 314.6L586.5 302.0A17.1 17.1 0 0 1 591.7 314.6" fill="none" stroke="#222" stroke-width="1.1" stroke-linejoin="miter"/>
<path d="M592.6 316.4H595.6V318.4H592.6Z" fill="none" stroke="#222" stroke-width="0.9" stroke-linejoin="miter"/>
<path d="M594.2 317.8L581.1 330.4A18.0 18.0 0 0 0 593.6 335.8" fill="none" stroke="#222" stroke-width="1.1" stroke-linejoin="miter"/>
<path d="M592.4 335.4H595.6V337.8" fill="none" stroke="#222" stroke-width="0.9" stroke-linejoin="miter"/>
<path d="M619.7 314.8L631.6 302.6A17.2 17.2 0 0 1 636.9 314.8" fill="none" stroke="#222" stroke-width="1.1" stroke-linejoin="miter"/>
<path d="M527.6 339.0L516.4 351.8A17.0 17.0 0 0 1 510.6 339.0" fill="none" stroke="#222" stroke-width="1.1" stroke-linejoin="miter"/>
<path d="M592.3 339.2L579.7 351.8A17.7 17.7 0 0 1 574.6 339.2" fill="none" stroke="#222" stroke-width="1.1" stroke-linejoin="miter"/>
<path d="M598.4 339.2L611.7 351.8A18.3 18.3 0 0 0 616.7 339.2" fill="none" stroke="#222" stroke-width="1.1" stroke-linejoin="miter"/>
<path d="M710.6 339.4L698.7 352.4A16.6 16.6 0 0 1 694.0 339.4" fill="none" stroke="#222" stroke-width="1.1" stroke-linejoin="miter"/>
<path d="M733.4 330.7L728.9 347.2A16.8 16.8 0 0 1 718.6 338.6" fill="none" stroke="#222" stroke-width="1.1" stroke-linejoin="miter"/>
<path d="M309 138.4L310.6 138.4" fill="none" stroke="#333" stroke-width="1.2" stroke-linejoin="miter"/>
<path d="M908.4 245.8L920.2 234.0A16.8 16.8 0 0 0 908.4 229.0" fill="none" stroke="#222" stroke-width="1.1" stroke-linejoin="miter"/>
<rect x="385" y="210.6" width="30.6" height="3.2" fill="#111"/>
<rect x="332" y="207.4" width="36.4" height="3.8" rx="1" fill="none" stroke="#333" stroke-width="0.8"/>
<circle cx="315.1" cy="57.1" r="5.6" fill="none" stroke="#9a9a9a" stroke-width="0.7"/>
<ellipse cx="360.7" cy="70.0" rx="3.9" ry="5" fill="#fff" stroke="#8c8c8c" stroke-width="0.8"/>
<ellipse cx="386.6" cy="70.0" rx="3.9" ry="5" fill="#fff" stroke="#8c8c8c" stroke-width="0.8"/>
<ellipse cx="355.1" cy="107.6" rx="3.5" ry="3.7" fill="none" stroke="#8c8c8c" stroke-width="0.8"/>
<path d="M352.3 107.6H354.90000000000003M352.5 106.39999999999999L353.70000000000005 107.6L352.5 108.8" fill="none" stroke="#333" stroke-width="0.7"/>
<ellipse cx="355.1" cy="127.7" rx="3.5" ry="3.7" fill="none" stroke="#8c8c8c" stroke-width="0.8"/>
<path d="M352.3 127.7H354.90000000000003M352.5 126.5L353.70000000000005 127.7L352.5 128.9" fill="none" stroke="#333" stroke-width="0.7"/>
<ellipse cx="313.8" cy="157" rx="3.5" ry="3.7" fill="none" stroke="#8c8c8c" stroke-width="0.8"/>
<path d="M311.0 157H313.6M311.2 155.8L312.40000000000003 157L311.2 158.2" fill="none" stroke="#333" stroke-width="0.7"/>
<ellipse cx="313.8" cy="172.9" rx="3.5" ry="3.7" fill="none" stroke="#8c8c8c" stroke-width="0.8"/>
<path d="M311.0 172.9H313.6M311.2 171.70000000000002L312.40000000000003 172.9L311.2 174.1" fill="none" stroke="#333" stroke-width="0.7"/>
<ellipse cx="339" cy="195.6" rx="3.9" ry="4.9" fill="#fff" stroke="#8c8c8c" stroke-width="0.8"/>
<ellipse cx="357.7" cy="195.6" rx="3.9" ry="4.9" fill="#fff" stroke="#8c8c8c" stroke-width="0.8"/>
<text x="69.2" y="112.7" font-size="15.41" textLength="38.2" lengthAdjust="spacingAndGlyphs">Suite</text>
<text x="111.7" y="112.7" font-size="15.41" textLength="27.5" lengthAdjust="spacingAndGlyphs">201</text>
<text x="80.0" y="132.4" font-size="15.26" textLength="27.8" lengthAdjust="spacingAndGlyphs">760</text>
<text x="112.2" y="132.4" font-size="15.26" textLength="17.4" lengthAdjust="spacingAndGlyphs">SF</text>
<text x="250.2" y="163.8" font-size="11.34" textLength="28.9" lengthAdjust="spacingAndGlyphs">Suite</text>
<text x="282.5" y="163.8" font-size="11.34" textLength="20.8" lengthAdjust="spacingAndGlyphs">203</text>
<text x="258.0" y="178.6" font-size="11.34" textLength="21.1" lengthAdjust="spacingAndGlyphs">560</text>
<text x="282.5" y="178.6" font-size="11.34" textLength="13.2" lengthAdjust="spacingAndGlyphs">SF</text>
<text x="401.0" y="74.8" font-size="11.63" textLength="29.2" lengthAdjust="spacingAndGlyphs">Suite</text>
<text x="433.5" y="74.8" font-size="11.63" textLength="29.5" lengthAdjust="spacingAndGlyphs">205A</text>
<text x="413.7" y="89.1" font-size="11.63" textLength="20.8" lengthAdjust="spacingAndGlyphs">100</text>
<text x="437.8" y="89.1" font-size="11.63" textLength="13.1" lengthAdjust="spacingAndGlyphs">SF</text>
<text x="490.4" y="74.8" font-size="11.63" textLength="29.2" lengthAdjust="spacingAndGlyphs">Suite</text>
<text x="522.9" y="74.8" font-size="11.63" textLength="28.7" lengthAdjust="spacingAndGlyphs">205C</text>
<text x="502.1" y="89.1" font-size="11.63" textLength="21.2" lengthAdjust="spacingAndGlyphs">325</text>
<text x="526.6" y="89.1" font-size="11.63" textLength="13.3" lengthAdjust="spacingAndGlyphs">SF</text>
<text x="573.5" y="69.3" font-size="10.61" textLength="26.0" lengthAdjust="spacingAndGlyphs">Suite</text>
<text x="602.5" y="69.3" font-size="10.61" textLength="26.8" lengthAdjust="spacingAndGlyphs">205D</text>
<text x="584.5" y="82.1" font-size="10.61" textLength="18.9" lengthAdjust="spacingAndGlyphs">200</text>
<text x="606.5" y="82.1" font-size="10.61" textLength="11.9" lengthAdjust="spacingAndGlyphs">SF</text>
<text x="678.3" y="98.5" font-size="11.34" textLength="29.0" lengthAdjust="spacingAndGlyphs">Suite</text>
<text x="710.6" y="98.5" font-size="11.34" textLength="27.8" lengthAdjust="spacingAndGlyphs">205E</text>
<text x="689.3" y="112.8" font-size="11.34" textLength="21.3" lengthAdjust="spacingAndGlyphs">450</text>
<text x="714.1" y="112.8" font-size="11.34" textLength="13.4" lengthAdjust="spacingAndGlyphs">SF</text>
<text x="762.6" y="86.0" font-size="11.34" textLength="28.9" lengthAdjust="spacingAndGlyphs">Suite</text>
<text x="794.9" y="86.0" font-size="11.34" textLength="27.6" lengthAdjust="spacingAndGlyphs">205F</text>
<text x="774.0" y="100.0" font-size="11.34" textLength="21.0" lengthAdjust="spacingAndGlyphs">325</text>
<text x="798.4" y="100.0" font-size="11.34" textLength="13.2" lengthAdjust="spacingAndGlyphs">SF</text>
<text x="836.3" y="98.4" font-size="11.34" textLength="29.1" lengthAdjust="spacingAndGlyphs">Suite</text>
<text x="868.7" y="98.4" font-size="11.34" textLength="29.9" lengthAdjust="spacingAndGlyphs">205H</text>
<text x="848.5" y="112.8" font-size="11.34" textLength="21.0" lengthAdjust="spacingAndGlyphs">325</text>
<text x="872.9" y="112.8" font-size="11.34" textLength="13.2" lengthAdjust="spacingAndGlyphs">SF</text>
<text x="684.8" y="184.9" font-size="12.50" textLength="43.3" lengthAdjust="spacingAndGlyphs">Kitchen</text>
<text x="738.1" y="188.5" font-size="9.88" textLength="30.7" lengthAdjust="spacingAndGlyphs">Comm.</text>
<text x="740.6" y="198.8" font-size="9.88" textLength="26.5" lengthAdjust="spacingAndGlyphs">Room</text>
<text x="774.2" y="188.5" font-size="9.88" textLength="22.4" lengthAdjust="spacingAndGlyphs">Suite</text>
<text x="799.0" y="188.5" font-size="9.88" textLength="22.9" lengthAdjust="spacingAndGlyphs">205G</text>
<text x="783.3" y="198.8" font-size="9.88" textLength="16.2" lengthAdjust="spacingAndGlyphs">150</text>
<text x="801.9" y="198.8" font-size="9.88" textLength="10.2" lengthAdjust="spacingAndGlyphs">SF</text>
<text x="849.5" y="178.0" font-size="10.61" textLength="26.3" lengthAdjust="spacingAndGlyphs">Suite</text>
<text x="878.9" y="178.0" font-size="10.61" textLength="22.3" lengthAdjust="spacingAndGlyphs">205I</text>
<text x="858.8" y="191.0" font-size="10.61" textLength="18.3" lengthAdjust="spacingAndGlyphs">250</text>
<text x="880.0" y="191.0" font-size="10.61" textLength="11.5" lengthAdjust="spacingAndGlyphs">SF</text>
<text x="171.7" y="288.0" font-size="15.12" textLength="38.7" lengthAdjust="spacingAndGlyphs">Suite</text>
<text x="214.9" y="288.0" font-size="15.12" textLength="27.9" lengthAdjust="spacingAndGlyphs">202</text>
<text x="175.6" y="307.4" font-size="14.97" textLength="41.4" lengthAdjust="spacingAndGlyphs">1,025</text>
<text x="221.4" y="307.4" font-size="14.97" textLength="17.2" lengthAdjust="spacingAndGlyphs">SF</text>
<text x="273.5" y="279.8" font-size="11.19" textLength="29.1" lengthAdjust="spacingAndGlyphs">Suite</text>
<text x="306.0" y="279.8" font-size="11.19" textLength="20.9" lengthAdjust="spacingAndGlyphs">204</text>
<text x="281.2" y="294.5" font-size="11.19" textLength="21.2" lengthAdjust="spacingAndGlyphs">510</text>
<text x="305.9" y="294.5" font-size="11.19" textLength="13.3" lengthAdjust="spacingAndGlyphs">SF</text>
<text x="380.1" y="378.8" font-size="15.26" textLength="47.8" lengthAdjust="spacingAndGlyphs">Lobby</text>
<text x="478.8" y="264.8" font-size="11.48" textLength="29.1" lengthAdjust="spacingAndGlyphs">Suite</text>
<text x="511.3" y="264.8" font-size="11.48" textLength="26.3" lengthAdjust="spacingAndGlyphs">205J</text>
<text x="489.5" y="279.8" font-size="11.48" textLength="20.8" lengthAdjust="spacingAndGlyphs">325</text>
<text x="513.6" y="279.8" font-size="11.48" textLength="13.0" lengthAdjust="spacingAndGlyphs">SF</text>
<text x="556.4" y="265.2" font-size="10.76" textLength="26.6" lengthAdjust="spacingAndGlyphs">Suite</text>
<text x="586.0" y="265.2" font-size="10.76" textLength="25.2" lengthAdjust="spacingAndGlyphs">205L</text>
<text x="567.1" y="278.6" font-size="10.76" textLength="19.4" lengthAdjust="spacingAndGlyphs">225</text>
<text x="589.6" y="278.6" font-size="10.76" textLength="12.2" lengthAdjust="spacingAndGlyphs">SF</text>
<text x="616.9" y="280.3" font-size="10.76" textLength="26.4" lengthAdjust="spacingAndGlyphs">Suite</text>
<text x="646.3" y="280.3" font-size="10.76" textLength="27.1" lengthAdjust="spacingAndGlyphs">205N</text>
<text x="627.7" y="293.1" font-size="10.76" textLength="18.9" lengthAdjust="spacingAndGlyphs">225</text>
<text x="649.7" y="293.1" font-size="10.76" textLength="11.9" lengthAdjust="spacingAndGlyphs">SF</text>
<text x="466.3" y="374.7" font-size="11.19" textLength="26.4" lengthAdjust="spacingAndGlyphs">Suite</text>
<text x="495.7" y="374.7" font-size="11.19" textLength="26.2" lengthAdjust="spacingAndGlyphs">205K</text>
<text x="477.3" y="387.3" font-size="11.19" textLength="18.8" lengthAdjust="spacingAndGlyphs">250</text>
<text x="499.0" y="387.3" font-size="11.19" textLength="11.9" lengthAdjust="spacingAndGlyphs">SF</text>
<text x="533.7" y="375.3" font-size="11.19" textLength="25.8" lengthAdjust="spacingAndGlyphs">Suite</text>
<text x="562.4" y="375.3" font-size="11.19" textLength="28.3" lengthAdjust="spacingAndGlyphs">205M</text>
<text x="545.3" y="388.2" font-size="11.05" textLength="18.8" lengthAdjust="spacingAndGlyphs">250</text>
<text x="567.0" y="388.2" font-size="11.05" textLength="11.8" lengthAdjust="spacingAndGlyphs">SF</text>
<text x="598.0" y="373.9" font-size="11.19" textLength="25.8" lengthAdjust="spacingAndGlyphs">Suite</text>
<text x="626.7" y="373.9" font-size="11.19" textLength="26.8" lengthAdjust="spacingAndGlyphs">205O</text>
<text x="609.2" y="386.5" font-size="11.05" textLength="19.0" lengthAdjust="spacingAndGlyphs">250</text>
<text x="631.2" y="386.5" font-size="11.05" textLength="11.9" lengthAdjust="spacingAndGlyphs">SF</text>
<text x="663.2" y="382.4" font-size="9.45" textLength="22.8" lengthAdjust="spacingAndGlyphs">Suite</text>
<text x="688.6" y="382.4" font-size="9.45" textLength="22.3" lengthAdjust="spacingAndGlyphs">205P</text>
<text x="672.5" y="393.2" font-size="9.30" textLength="16.5" lengthAdjust="spacingAndGlyphs">200</text>
<text x="691.6" y="393.2" font-size="9.30" textLength="10.4" lengthAdjust="spacingAndGlyphs">SF</text>
<text x="765.1" y="347.0" font-size="12.94" textLength="32.2" lengthAdjust="spacingAndGlyphs">Suite</text>
<text x="801.0" y="347.0" font-size="12.94" textLength="33.5" lengthAdjust="spacingAndGlyphs">205Q</text>
<text x="838.6" y="347.0" font-size="12.94" textLength="7.1" lengthAdjust="spacingAndGlyphs">+</text>
<text x="849.8" y="347.0" font-size="12.94" textLength="31.7" lengthAdjust="spacingAndGlyphs">205R</text>
<text x="797.1" y="363.1" font-size="12.94" textLength="34.6" lengthAdjust="spacingAndGlyphs">1,500</text>
<text x="835.3" y="363.1" font-size="12.94" textLength="14.4" lengthAdjust="spacingAndGlyphs">SF</text>
<text x="800.3" y="35.7" font-size="14.53" textLength="55.5" lengthAdjust="spacingAndGlyphs" style="fill:#e0121d;stroke:#e0121d">Second</text>
<text x="860.3" y="35.7" font-size="14.53" textLength="39.2" lengthAdjust="spacingAndGlyphs" style="fill:#e0121d;stroke:#e0121d">Floor</text>
<text transform="translate(488.0 145.6) rotate(90)" font-size="11.63" textLength="28.6" lengthAdjust="spacingAndGlyphs">Suite</text>
<text transform="translate(488.0 177.5) rotate(90)" font-size="11.63" textLength="28.3" lengthAdjust="spacingAndGlyphs">205B</text>
<text transform="translate(473.1 156.9) rotate(90)" font-size="11.63" textLength="21.3" lengthAdjust="spacingAndGlyphs">150</text>
<text transform="translate(473.1 181.6) rotate(90)" font-size="11.63" textLength="13.4" lengthAdjust="spacingAndGlyphs">SF</text>
</svg>
</body></html>
